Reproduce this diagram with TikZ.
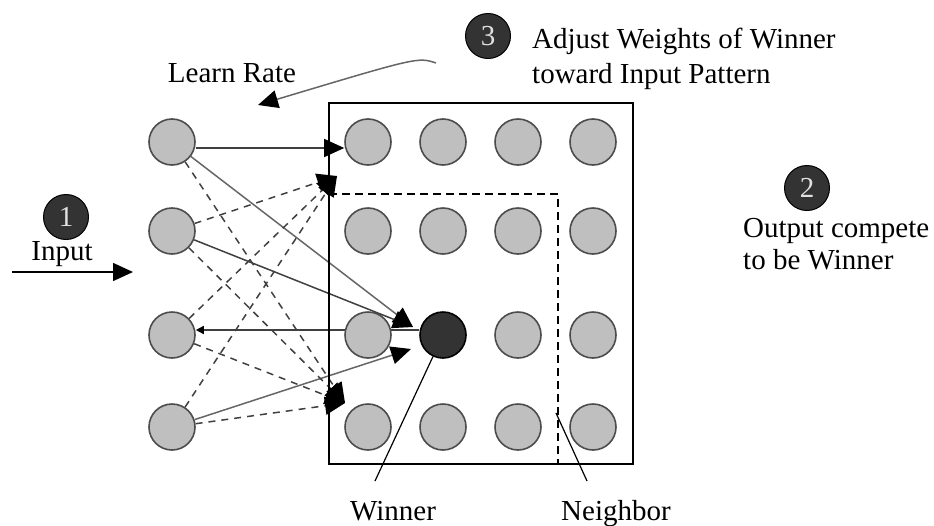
\documentclass[tikz,border=0pt]{standalone}
\usepackage{fontspec}
\setmainfont{Liberation Serif}
\usetikzlibrary{arrows.meta,backgrounds}
\begin{document}
\begin{tikzpicture}[x=1pt,y=-1pt,
  unit/.style={circle,draw=black!70,line width=1.6pt,fill=black!25,minimum size=46pt,inner sep=0pt},
  winnerunit/.style={unit,fill=black!80,draw=black},
  badge/.style={circle,fill=black!80,draw=black,line width=1pt,minimum size=45pt,inner sep=0pt,text=black!12,font=\fontsize{29}{29}\selectfont},
  lbl/.style={font=\fontsize{29}{35}\selectfont,inner sep=0pt},
  link/.style={line width=1.5pt,draw=black!75},
  dlink/.style={link,dash pattern=on 7pt off 6pt},
  bigtip/.style={-{Triangle[length=20pt,width=18pt,color=black]}},
  smalltip/.style={{Triangle[length=8pt,width=8pt,color=black]}-},
  pointer/.style={line width=1.2pt,draw=black}
]
\useasboundingbox (0,0) rectangle (934,525);

% input units
\node[unit] (I1) at (172,142) {};
\node[unit] (I2) at (172,231) {};
\node[unit] (I3) at (172,335) {};
\node[unit] (I4) at (172,427) {};

% output grid
\node[unit] (O11) at (368,142) {};
\node[unit] (O12) at (443,142) {};
\node[unit] (O13) at (518,142) {};
\node[unit] (O14) at (593,142) {};
\node[unit] (O21) at (368,231) {};
\node[unit] (O22) at (443,231) {};
\node[unit] (O23) at (518,231) {};
\node[unit] (O24) at (593,231) {};
\node[unit] (O31) at (368,335) {};
\node[winnerunit] (W) at (443,335) {};
\node[unit] (O33) at (518,335) {};
\node[unit] (O34) at (593,335) {};
\node[unit] (O41) at (368,427) {};
\node[unit] (O42) at (443,427) {};
\node[unit] (O43) at (518,427) {};
\node[unit] (O44) at (593,427) {};

% frame and neighbourhood
\draw[line width=2.4pt] (329,103) rectangle (633,464);
\draw[line width=2pt,dash pattern=on 8pt off 5pt] (329,194) -- (558,194) -- (558,464);

% arrow targets
\coordinate (t11) at (337,176);
\coordinate (t41) at (345,403);
\coordinate (tw1) at (413,327);
\coordinate (tw2) at (411,349);

\begin{scope}[on background layer]
  \draw[link,bigtip] ([yshift=-6pt]I1.east) -- ([yshift=-6pt]O11.west);
  \draw[link,bigtip,draw=black!60] (I1) -- (tw1);
  \draw[link,bigtip] (I2) -- (tw1);
  \draw[link,smalltip] ([yshift=5pt]I3.east) -- ([yshift=5pt]W.west);
  \draw[link,smalltip,bigtip,draw=black!60] (I4) -- (tw2);
  \draw[dlink,bigtip] (I2) -- (t11);
  \draw[dlink,bigtip] (I3) -- (t11);
  \draw[dlink,bigtip] (I4) -- (t11);
  \draw[dlink,bigtip] (I1) -- (t41);
  \draw[dlink,bigtip] (I2) -- (t41);
  \draw[dlink,bigtip] (I3) -- (t41);
  \draw[dlink,bigtip] (I4) -- (t41);
\end{scope}

% badges
\node[badge] (b1) at (66,217) {1};
\node[badge] (b2) at (807,188) {2};
\node[badge] (b3) at (488,36) {3};

% texts
\node[lbl,anchor=base] (tin) at (62,260) {Input};
\node[lbl,anchor=base] (tlr) at (232,82) {Learn Rate};
\node[lbl,anchor=base west] (tadj1) at (532,48) {Adjust Weights of Winner};
\node[lbl,anchor=base west] (tadj2) at (532,83) {toward Input Pattern};
\node[lbl,anchor=base west] (tout1) at (743,237) {Output compete};
\node[lbl,anchor=base west] (tout2) at (743,269) {to be Winner};
\node[lbl,anchor=base] (twin) at (393,520) {Winner};
\node[lbl,anchor=base] (tnb) at (616,520) {Neighbor};

% input arrow
\coordinate (in0) at (12,272);
\coordinate (in1) at (133,272);
\draw[link,bigtip,draw=black] (in0) -- (in1);

% learn rate arrow
\coordinate (lr0) at (436,63);
\coordinate (lr1) at (258,105);
\draw[link,bigtip,draw=black!60] (lr0) .. controls (418,57) .. (lr1);

% pointers to labels
\coordinate (wl) at (375,481);
\draw[pointer] (W) -- (wl);
\coordinate (n0) at (556,413);
\coordinate (n1) at (587,481);
\draw[pointer] (n0) -- (n1);
\end{tikzpicture}
\end{document}
